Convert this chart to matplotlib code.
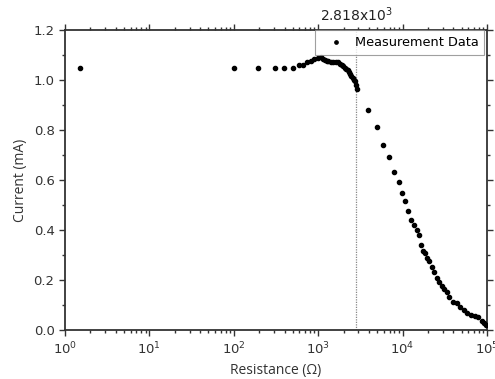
import matplotlib.pyplot as plt
from matplotlib.ticker import LogLocator, MultipleLocator, NullFormatter

resistance = [1.5, 101, 195, 308, 398, 500, 597, 667, 742, 822, 900, 1000, 1080,
              1140, 1203, 1260, 1318, 1400, 1511, 1620, 1735, 1820, 1900, 1990,
              2080, 2160, 2235, 2300, 2380, 2470, 2570, 2650, 2730, 2820, 2905,
              3925, 4935, 5900, 6900, 7910, 9000, 9750, 10670, 11700, 12590,
              13770, 14700, 15780, 16520, 17590, 18420, 19630, 20720, 22130,
              23560, 25350, 27230, 29050, 30930, 33170, 35700, 39180, 43700,
              47860, 53370, 58420, 64100, 72100, 78900, 86500, 92100, 97300]
current = [1.05, 1.05, 1.05, 1.05, 1.05, 1.05, 1.059, 1.062, 1.071, 1.078, 1.084,
           1.088, 1.091, 1.086, 1.082, 1.078, 1.075, 1.072, 1.071, 1.071, 1.071,
           1.066, 1.062, 1.056, 1.049, 1.044, 1.039, 1.032, 1.025, 1.017, 1.009,
           1.002, 0.995, 0.98, 0.965, 0.882, 0.811, 0.742, 0.691, 0.633, 0.593,
           0.551, 0.519, 0.479, 0.442, 0.422, 0.402, 0.382, 0.342, 0.319, 0.309,
           0.289, 0.278, 0.253, 0.233, 0.209, 0.195, 0.178, 0.165, 0.155, 0.133,
           0.115, 0.109, 0.093, 0.082, 0.071, 0.062, 0.058, 0.053, 0.039, 0.029,
           0.022]
marker_r = 2818
marker_label = '2.818x10$^3$'

fig = plt.figure(figsize=(4.95, 3.79), dpi=100)
ax = fig.add_axes([0.1313, 0.128, 0.8525, 0.7928])

ax.scatter(resistance, current, s=9, color='black', zorder=3,
           label='Measurement Data')
ax.axvline(marker_r, color='#888888', linestyle=(0, (1, 1)), linewidth=0.9)

ax.set_xscale('log')
ax.set_xlim(1, 1e5)
ax.set_ylim(0, 1.2)
ax.yaxis.set_major_locator(MultipleLocator(0.2))
ax.yaxis.set_minor_locator(MultipleLocator(0.1))
ax.yaxis.set_major_formatter(plt.FormatStrFormatter('%.1f'))
ax.xaxis.set_major_locator(LogLocator(base=10, numticks=10))
ax.xaxis.set_minor_locator(LogLocator(base=10, subs=range(2, 10), numticks=10))
ax.xaxis.set_minor_formatter(NullFormatter())

for s in ax.spines.values():
    s.set_linewidth(1.3)
    s.set_color('#333333')
ax.tick_params(which='both', direction='out', top=True, right=True,
               colors='#333333', labelcolor='#333333', labelsize=9.5, width=1)
ax.tick_params(which='major', length=4)
ax.tick_params(which='minor', length=2.5)

ax.set_xlabel('Resistance (Ω)', fontsize=10, family='Open Sans', color='#333333')
ax.set_ylabel('Current (mA)', fontsize=10, family='Open Sans', color='#333333')

ax.text(marker_r, 1.225, marker_label, transform=ax.transData, ha='center',
        va='bottom', fontsize=10, color='#222222')

leg = ax.legend(loc='upper right', bbox_to_anchor=(0.994, 1.0), fontsize=9.3,
                frameon=True, fancybox=False, borderaxespad=0,
                handletextpad=0.4, handlelength=2.2, markerscale=0.8,
                borderpad=0.45)
leg.get_frame().set_edgecolor('#888888')
leg.get_frame().set_linewidth(0.8)

fig.savefig('out.png', dpi=100)
